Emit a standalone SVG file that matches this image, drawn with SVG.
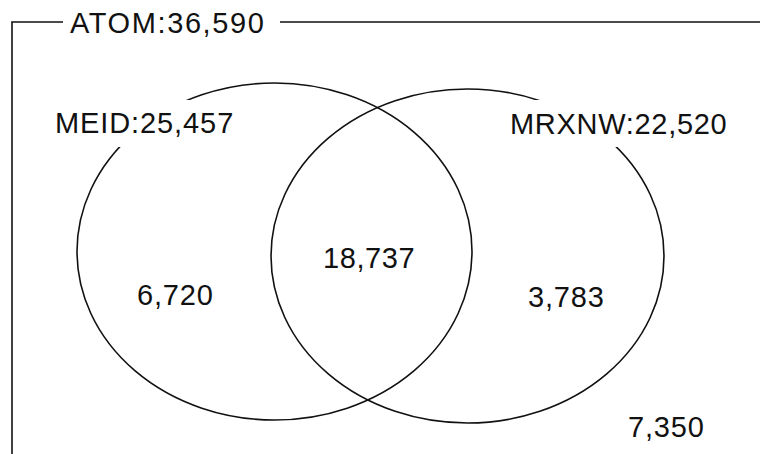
<svg xmlns="http://www.w3.org/2000/svg" width="760" height="454" viewBox="0 0 760 454">
<style>
.line{fill:none;stroke:#111;stroke-width:1.6}
.lbl{font-family:"Liberation Sans",Arial,sans-serif;font-size:29px;fill:#111}
.bg{fill:#fff;stroke:none}
</style>
<rect width="760" height="454" fill="#fff"/>
<g id="frame">
<path class="line" d="M63,22 H12 V454 M280,22 H760"/>
<text class="lbl" x="70" y="33" letter-spacing="1.6">ATOM:36,590</text>
</g>
<g id="meid">
<ellipse class="line" cx="274.5" cy="251.5" rx="197.5" ry="168.5"/>
<rect class="bg" x="45" y="100" width="193" height="47"/>
<text class="lbl" x="55" y="133" letter-spacing="0.9">MEID:25,457</text>
</g>
<g id="mrxnw">
<ellipse class="line" cx="467.5" cy="256" rx="196.5" ry="167"/>
<rect class="bg" x="505" y="100" width="230" height="47"/>
<text class="lbl" x="510" y="134" letter-spacing="0.7">MRXNW:22,520</text>
</g>
<g id="counts">
<text class="lbl" x="137" y="305" letter-spacing="0.8">6,720</text>
<text class="lbl" x="323" y="268" letter-spacing="0.6">18,737</text>
<text class="lbl" x="528" y="307" letter-spacing="0.8">3,783</text>
<text class="lbl" x="628" y="437" letter-spacing="0.8">7,350</text>
</g>
</svg>
